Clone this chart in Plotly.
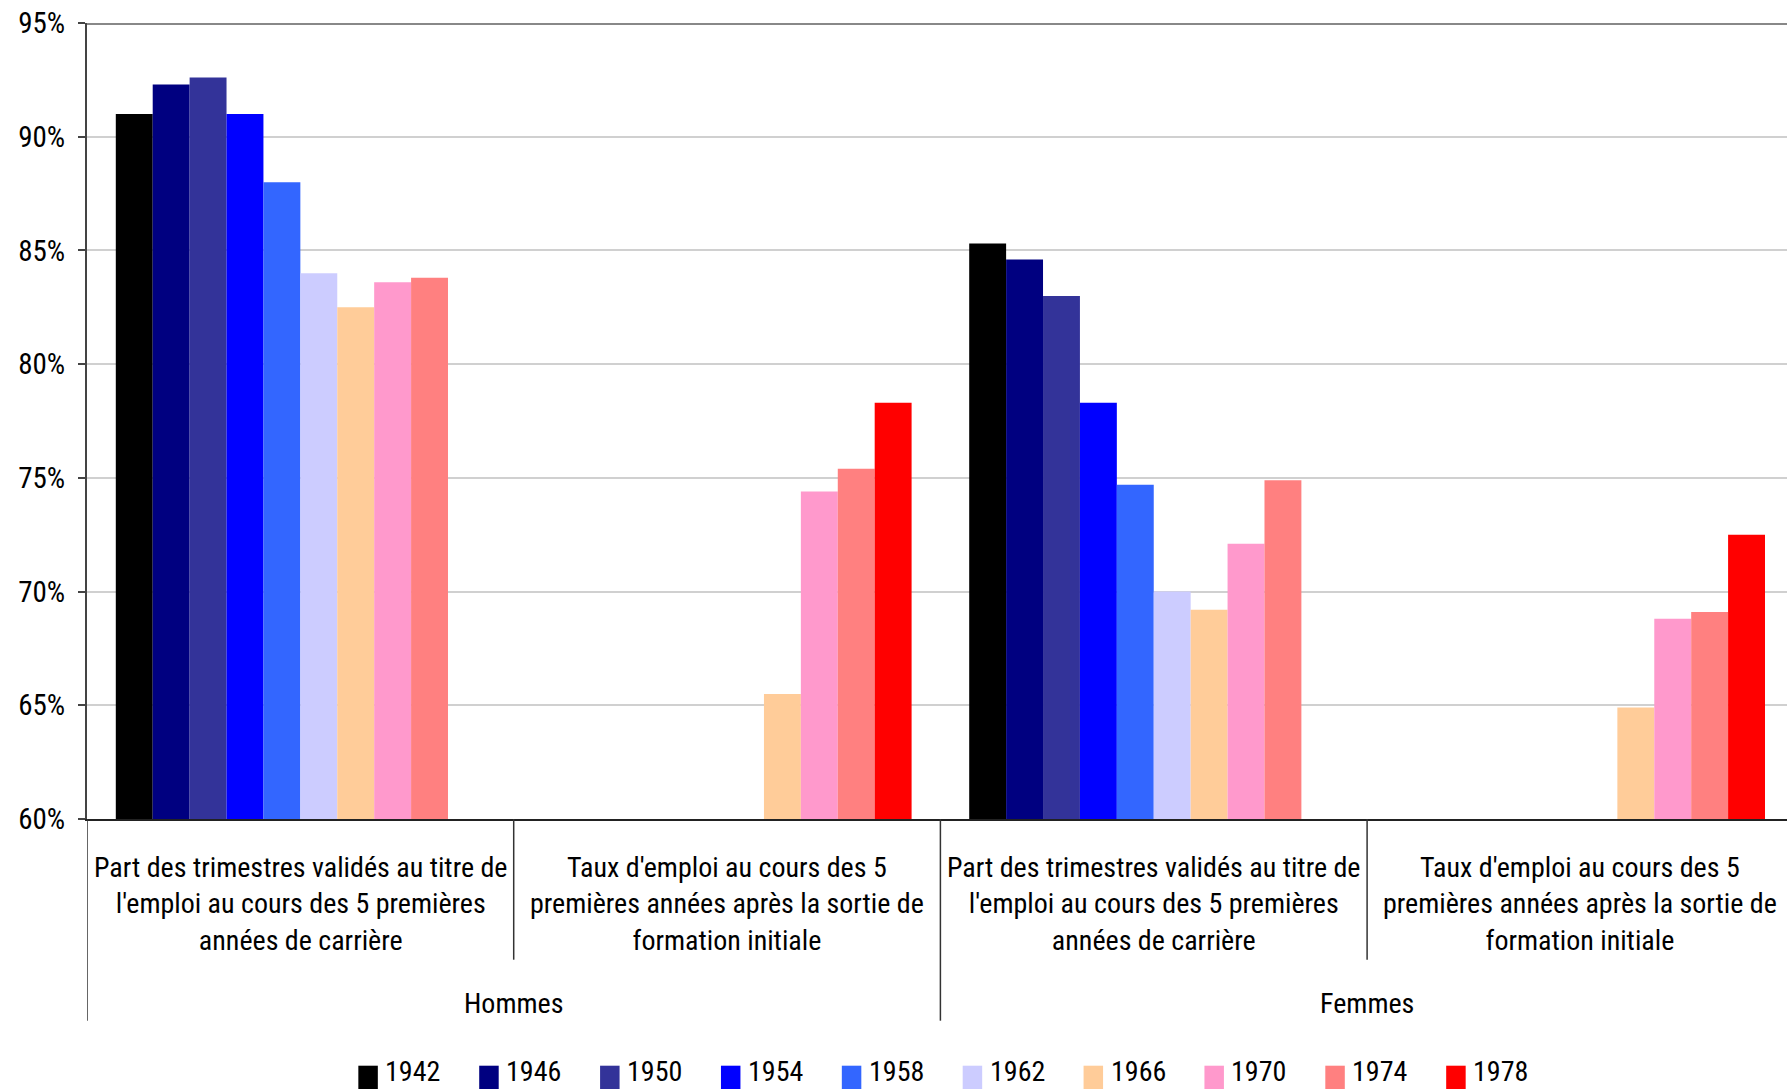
import plotly.graph_objects as go

# ---- data ----
years = ["1942", "1946", "1950", "1954", "1958", "1962", "1966", "1970", "1974", "1978"]
colors = ["#000000", "#000080", "#333399", "#0000FF", "#3366FF",
          "#CCCCFF", "#FFCC99", "#FF99CC", "#FF8080", "#FF0000"]
inner_labels = [
    "Part des trimestres validés au titre de<br>l'emploi au cours des 5 premières<br>années de carrière",
    "Taux d'emploi au cours des 5<br>premières années après la sortie de<br>formation initiale",
    "Part des trimestres validés au titre de<br>l'emploi au cours des 5 premières<br>années de carrière",
    "Taux d'emploi au cours des 5<br>premières années après la sortie de<br>formation initiale",
]
outer_labels = ["Hommes", "Femmes"]
# values per year across the 4 categories (None = no bar)
v1942 = [91.0, None, 85.3, None]
v1946 = [92.3, None, 84.6, None]
v1950 = [92.6, None, 83.0, None]
v1954 = [91.0, None, 78.3, None]
v1958 = [88.0, None, 74.7, None]
v1962 = [84.0, None, 70.0, None]
v1966 = [82.5, 65.5, 69.2, 64.9]
v1970 = [83.6, 74.4, 72.1, 68.8]
v1974 = [83.8, 75.4, 74.9, 69.1]
v1978 = [None, 78.3, None, 72.5]
series = [v1942, v1946, v1950, v1954, v1958, v1962, v1966, v1970, v1974, v1978]

FONT = "Roboto Condensed, DejaVu Sans Condensed, sans-serif"
W, H = 1787, 1089
# plot area in page pixels (page body margin removed below)
VL, VT, VB = 86.6, 23.3, 819.3
CAT_W = 426.8  # pixel width of one category
L = VL
R = 0
T = VT
B = H - VB
PH = VB - VT
PW = W - VL

cats = list(range(len(inner_labels)))

fig = go.Figure()
for y, c, vals in zip(years, colors, series):
    fig.add_trace(go.Bar(x=cats, y=vals, name=y,
                         marker=dict(color=c, line=dict(width=0)),
                         showlegend=False))

def py(v):
    return -(v - VB) / PH

def pxp(v):
    return (v - VL) / PW

shapes = []
annotations = []
# top border line
shapes.append(dict(type="line", xref="paper", yref="y", x0=0, x1=1, y0=95, y1=95,
                   line=dict(color="#888888", width=4), layer="above"))
# separators
for xv in [0.5, 2.5]:
    shapes.append(dict(type="line", xref="x", yref="paper", x0=xv, x1=xv, y0=0, y1=py(960),
                       line=dict(color="#333333", width=1.5)))
for xv in [-0.5, 1.5]:
    shapes.append(dict(type="line", xref="x", yref="paper", x0=xv, x1=xv, y0=0, y1=py(1021),
                       line=dict(color="#333333", width=1.5)))
# category labels
for i, lab in enumerate(inner_labels):
    annotations.append(dict(x=i, xref="x", y=py(904), yref="paper", text=lab, showarrow=False,
                            xanchor="center", yanchor="middle",
                            font=dict(family=FONT, size=28, color="#000000")))
for j, lab in enumerate(outer_labels):
    annotations.append(dict(x=0.5 + 2 * j, xref="x", y=py(1004), yref="paper", text=lab,
                            showarrow=False, xanchor="center", yanchor="middle",
                            font=dict(family=FONT, size=28, color="#000000")))
# legend
for k, (y, c) in enumerate(zip(years, colors)):
    x0 = 358 + k * 120.9
    shapes.append(dict(type="rect", xref="paper", yref="paper",
                       x0=pxp(x0), x1=pxp(x0 + 19.5), y0=py(1066), y1=py(1100),
                       fillcolor=c, line=dict(width=0)))
    annotations.append(dict(x=pxp(x0 + 25), xref="paper", y=py(1072), yref="paper", text=y,
                            showarrow=False, xanchor="left", yanchor="middle",
                            font=dict(family=FONT, size=28, color="#000000")))

fig.update_layout(
    width=W, height=H,
    margin=dict(l=L, r=R, t=T, b=B, pad=0),
    paper_bgcolor="white", plot_bgcolor="white",
    barmode="group", bargap=0.135, bargroupgap=0,
    shapes=shapes, annotations=annotations,
    showlegend=False,
    xaxis=dict(range=[-0.5, -0.5 + PW / CAT_W], showticklabels=False, showgrid=False,
               automargin=False, zeroline=False, showline=True, linecolor="#222222",
               linewidth=2, ticks=""),
    yaxis=dict(range=[60, 95], dtick=5, ticksuffix="%", showgrid=True, gridcolor="#d0d0d0",
               gridwidth=2, zeroline=False, showline=True, linecolor="#444444", linewidth=2,
               ticks="outside", ticklen=7, tickcolor="#444444", tickwidth=2,
               ticklabelstandoff=7, automargin=False, ticklabeloverflow="allow",
               tickfont=dict(family=FONT, size=29, color="#000000")),
)

fig.write_html("out.html", config={"displayModeBar": False},
               post_script="document.body.style.margin='0';")
